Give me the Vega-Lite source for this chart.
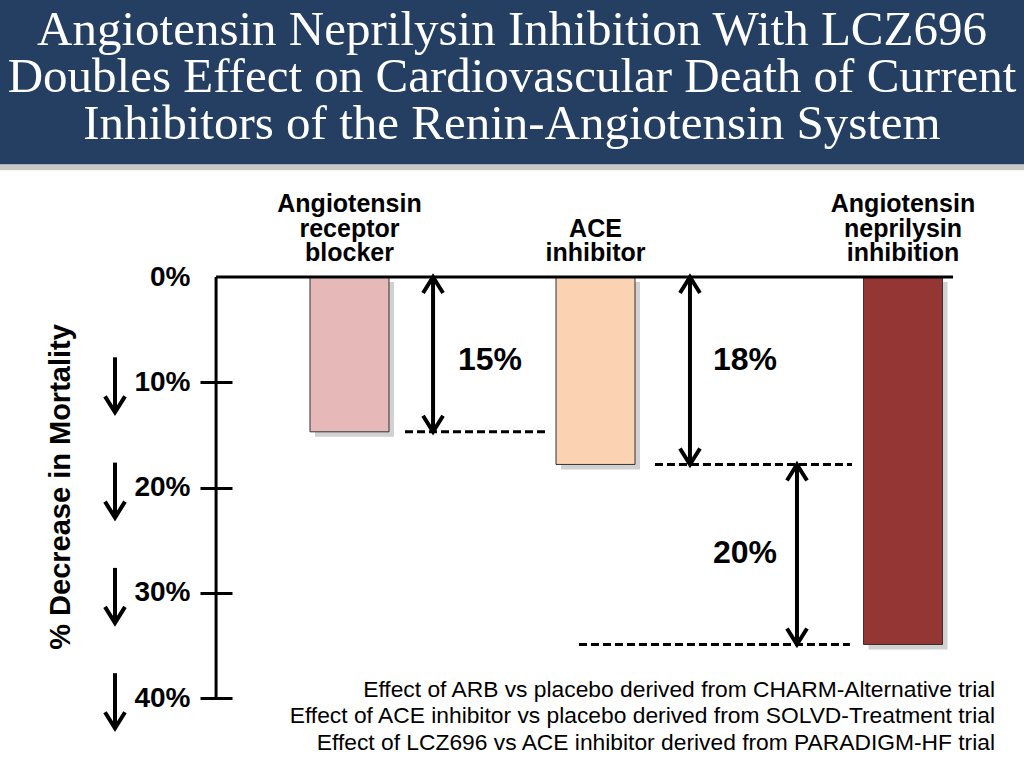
{
  "$schema": "https://vega.github.io/schema/vega-lite/v6.json",
  "width": 792,
  "height": 768,
  "padding": {"left": 232, "top": 0, "right": 0, "bottom": 0},
  "autosize": {"type": "none"},
  "background": "white",
  "config": {"view": {"stroke": null}, "font": "Liberation Sans"},
  "datasets": {
    "therapies": [
      {"therapy": "Angiotensin receptor blocker", "decrease": 14.7},
      {"therapy": "ACE inhibitor", "decrease": 17.8},
      {"therapy": "Angiotensin neprilysin inhibition", "decrease": 34.9}
    ],
    "effects": [
      {"comparison": "ARB vs placebo", "trial": "CHARM-Alternative", "from": 0, "to": 14.7, "label": "15%"},
      {"comparison": "ACE inhibitor vs placebo", "trial": "SOLVD-Treatment", "from": 0, "to": 17.8, "label": "18%"},
      {"comparison": "LCZ696 vs ACE inhibitor", "trial": "PARADIGM-HF", "from": 17.8, "to": 34.9, "label": "20%"}
    ],
    "levels": [{"level": 10}, {"level": 20}, {"level": 30}, {"level": 40}],
    "texts": [
      {
        "heading": "Angiotensin Neprilysin Inhibition With LCZ696\nDoubles Effect on Cardiovascular Death of Current\nInhibitors of the Renin-Angiotensin System",
        "yTitle": "% Decrease in Mortality",
        "notes": "Effect of ARB vs placebo derived from CHARM-Alternative trial\nEffect of ACE inhibitor vs placebo derived from SOLVD-Treatment trial\nEffect of LCZ696 vs ACE inhibitor derived from PARADIGM-HF trial"
      }
    ]
  },
  "layer": [
    {
      "data": {"name": "therapies"},
      "encoding": {
        "x": {
          "field": "therapy",
          "type": "nominal",
          "axis": null,
          "scale": {
            "domain": ["s0", "Angiotensin receptor blocker", "s2", "s3", "s4", "ACE inhibitor", "s6", "s7", "s8", "s9", "Angiotensin neprilysin inhibition", "s11"],
            "paddingInner": 0,
            "paddingOuter": 0.439,
            "align": 0.4676
          }
        }
      },
      "layer": [
        {
          "mark": {"type": "bar", "width": 79, "color": "#bdbdbd", "opacity": 0.7, "xOffset": 5, "yOffset": 5, "y2Offset": 5},
          "encoding": {
            "y": {
              "field": "decrease",
              "type": "quantitative",
              "scale": {"domain": [-26.31, 46.63], "reverse": true, "nice": false, "zero": false},
              "axis": {
                "values": [0, 10, 20, 30, 40],
                "labelExpr": "datum.value + '%'",
                "title": null,
                "domain": false,
                "grid": false,
                "tickSize": 32,
                "tickWidth": 3,
                "tickColor": {"condition": {"test": "datum.value === 0", "value": "transparent"}, "value": "black"},
                "labelPadding": 10,
                "labelFont": "Liberation Sans",
                "labelFontSize": 28,
                "labelFontWeight": "bold",
                "labelColor": "black"
              }
            },
            "y2": {"datum": 0}
          }
        },
        {
          "mark": {"type": "bar", "width": 79, "stroke": "#333333", "strokeWidth": 1},
          "encoding": {
            "y": {"field": "decrease", "type": "quantitative"},
            "y2": {"datum": 0},
            "fill": {
              "field": "therapy",
              "type": "nominal",
              "legend": null,
              "scale": {
                "domain": ["Angiotensin receptor blocker", "ACE inhibitor", "Angiotensin neprilysin inhibition"],
                "range": ["#e6b8b8", "#fbd3b3", "#943634"]
              }
            }
          }
        },
        {
          "mark": {"type": "text", "lineBreak": " ", "baseline": "bottom", "align": "center", "font": "Liberation Sans", "fontSize": 25, "fontWeight": "bold", "lineHeight": 24.5, "color": "black",
                   "dy": {"expr": "(3 - length(split(datum.therapy, ' '))) * 24.5"}},
          "encoding": {
            "y": {"datum": -5.7},
            "text": {"field": "therapy"}
          }
        }
      ]
    },
    {
      "layer": [
        {
          "data": {"name": "texts"},
          "layer": [
            {
              "mark": {"type": "rect", "color": "#c8c8c8"},
              "encoding": {
                "x": {"datum": 0, "axis": null, "scale": {"domain": [22.656, 100], "nice": false, "zero": false}},
                "x2": {"datum": 100},
                "y": {"datum": -10.7},
                "y2": {"datum": -10.15}
              }
            },
            {
              "mark": {"type": "rect", "color": "#243f61"},
              "encoding": {
                "x": {"datum": 0, "axis": null},
                "x2": {"datum": 100},
                "y": {"datum": -26.31},
                "y2": {"datum": -10.7}
              }
            },
            {
              "mark": {"type": "text", "font": "Liberation Serif", "fontSize": 49, "color": "white", "lineBreak": "\n", "lineHeight": 47, "baseline": "middle", "align": "center"},
              "encoding": {
                "x": {"datum": 50, "axis": null},
                "y": {"datum": -23.46},
                "text": {"field": "heading"}
              }
            },
            {
              "mark": {"type": "rule", "color": "black", "strokeWidth": 3},
              "encoding": {
                "x": {"datum": 21.1, "axis": null},
                "y": {"datum": 0},
                "y2": {"datum": 40}
              }
            },
            {
              "mark": {"type": "rule", "color": "black", "strokeWidth": 3},
              "encoding": {
                "x": {"datum": 21.1, "axis": null},
                "x2": {"datum": 93.07},
                "y": {"datum": 0}
              }
            },
            {
              "mark": {"type": "text", "angle": 270, "align": "center", "baseline": "middle", "font": "Liberation Sans", "fontSize": 29, "fontWeight": "bold", "color": "black"},
              "encoding": {
                "x": {"datum": 5.96, "axis": null},
                "y": {"datum": 19.94},
                "text": {"field": "yTitle"}
              }
            },
            {
              "mark": {"type": "text", "align": "right", "baseline": "middle", "lineBreak": "\n", "lineHeight": 26.5, "font": "Liberation Sans", "fontSize": 22.8, "color": "black"},
              "encoding": {
                "x": {"datum": 97.17, "axis": null},
                "y": {"datum": 39.22},
                "text": {"field": "notes"}
              }
            }
          ]
        },
        {
          "data": {"name": "levels"},
          "layer": [
            {
              "mark": {"type": "rule", "color": "black", "strokeWidth": 4, "yOffset": -25, "y2Offset": 30},
              "encoding": {
                "x": {"datum": 11.23, "axis": null},
                "y": {"field": "level", "type": "quantitative"},
                "y2": {"field": "level"}
              }
            },
            {
              "mark": {"type": "point", "shape": "M-1,-1.6L0,0L1,-1.6", "filled": false, "size": 400, "strokeWidth": 4, "color": "black", "opacity": 1, "yOffset": 30},
              "encoding": {
                "x": {"datum": 11.23, "axis": null},
                "y": {"field": "level", "type": "quantitative"}
              }
            }
          ]
        },
        {
          "data": {"name": "effects"},
          "transform": [{"filter": "datum.comparison === 'ARB vs placebo'"}],
          "layer": [
            {
              "mark": {"type": "rule", "color": "black", "strokeWidth": 3, "strokeDash": [8, 4]},
              "encoding": {"x": {"datum": 39.55, "axis": null}, "x2": {"datum": 53.52}, "y": {"field": "to", "type": "quantitative"}}
            },
            {
              "mark": {"type": "rule", "color": "black", "strokeWidth": 4},
              "encoding": {"x": {"datum": 42.29, "axis": null}, "y": {"field": "from", "type": "quantitative"}, "y2": {"field": "to"}}
            },
            {
              "mark": {"type": "point", "shape": "M-1,1.6L0,0L1,1.6", "filled": false, "size": 400, "strokeWidth": 4, "color": "black", "opacity": 1},
              "encoding": {"x": {"datum": 42.29, "axis": null}, "y": {"field": "from", "type": "quantitative"}}
            },
            {
              "mark": {"type": "point", "shape": "M-1,-1.6L0,0L1,-1.6", "filled": false, "size": 400, "strokeWidth": 4, "color": "black", "opacity": 1},
              "encoding": {"x": {"datum": 42.29, "axis": null}, "y": {"field": "to", "type": "quantitative"}}
            },
            {
              "mark": {"type": "text", "font": "Liberation Sans", "fontSize": 32, "fontWeight": "bold", "align": "center", "baseline": "middle", "color": "black"},
              "encoding": {"x": {"datum": 47.85, "axis": null}, "y": {"datum": 7.88}, "text": {"field": "label"}}
            }
          ]
        },
        {
          "data": {"name": "effects"},
          "transform": [{"filter": "datum.comparison === 'ACE inhibitor vs placebo'"}],
          "layer": [
            {
              "mark": {"type": "rule", "color": "black", "strokeWidth": 3, "strokeDash": [8, 4]},
              "encoding": {"x": {"datum": 63.96, "axis": null}, "x2": {"datum": 83.2}, "y": {"field": "to", "type": "quantitative"}}
            },
            {
              "mark": {"type": "rule", "color": "black", "strokeWidth": 4},
              "encoding": {"x": {"datum": 67.38, "axis": null}, "y": {"field": "from", "type": "quantitative"}, "y2": {"field": "to"}}
            },
            {
              "mark": {"type": "point", "shape": "M-1,1.6L0,0L1,1.6", "filled": false, "size": 400, "strokeWidth": 4, "color": "black", "opacity": 1},
              "encoding": {"x": {"datum": 67.38, "axis": null}, "y": {"field": "from", "type": "quantitative"}}
            },
            {
              "mark": {"type": "point", "shape": "M-1,-1.6L0,0L1,-1.6", "filled": false, "size": 400, "strokeWidth": 4, "color": "black", "opacity": 1},
              "encoding": {"x": {"datum": 67.38, "axis": null}, "y": {"field": "to", "type": "quantitative"}}
            },
            {
              "mark": {"type": "text", "font": "Liberation Sans", "fontSize": 32, "fontWeight": "bold", "align": "center", "baseline": "middle", "color": "black"},
              "encoding": {"x": {"datum": 72.75, "axis": null}, "y": {"datum": 7.88}, "text": {"field": "label"}}
            }
          ]
        },
        {
          "data": {"name": "effects"},
          "transform": [{"filter": "datum.comparison === 'LCZ696 vs ACE inhibitor'"}],
          "layer": [
            {
              "mark": {"type": "rule", "color": "black", "strokeWidth": 3, "strokeDash": [8, 4]},
              "encoding": {"x": {"datum": 56.54, "axis": null}, "x2": {"datum": 83.0}, "y": {"field": "to", "type": "quantitative"}}
            },
            {
              "mark": {"type": "rule", "color": "black", "strokeWidth": 4},
              "encoding": {"x": {"datum": 77.83, "axis": null}, "y": {"field": "from", "type": "quantitative"}, "y2": {"field": "to"}}
            },
            {
              "mark": {"type": "point", "shape": "M-1,1.6L0,0L1,1.6", "filled": false, "size": 400, "strokeWidth": 4, "color": "black", "opacity": 1},
              "encoding": {"x": {"datum": 77.83, "axis": null}, "y": {"field": "from", "type": "quantitative"}}
            },
            {
              "mark": {"type": "point", "shape": "M-1,-1.6L0,0L1,-1.6", "filled": false, "size": 400, "strokeWidth": 4, "color": "black", "opacity": 1},
              "encoding": {"x": {"datum": 77.83, "axis": null}, "y": {"field": "to", "type": "quantitative"}}
            },
            {
              "mark": {"type": "text", "font": "Liberation Sans", "fontSize": 32, "fontWeight": "bold", "align": "center", "baseline": "middle", "color": "black"},
              "encoding": {"x": {"datum": 72.75, "axis": null}, "y": {"datum": 26.2}, "text": {"field": "label"}}
            }
          ]
        }
      ]
    }
  ],
  "resolve": {"scale": {"x": "independent"}}
}
